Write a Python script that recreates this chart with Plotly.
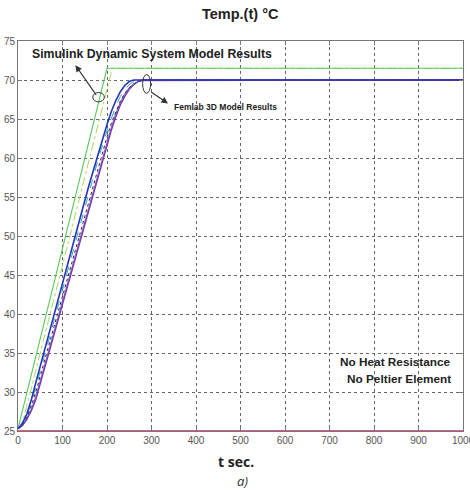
import plotly.graph_objects as go

# Simulink dynamic system model (time in s, temperature in deg C)
t_sim_a = [0, 200, 1000]
temp_sim_a = [25.3, 71.5, 71.5]
t_sim_b = [0, 10, 212, 1000]
temp_sim_b = [25.3, 26.0, 71.5, 71.5]

# Femlab 3D model results
t_fem = [0, 10, 20, 30, 40, 60, 80, 100, 120, 140, 160, 180, 200, 210,
         220, 230, 240, 250, 260, 270, 280, 300, 1000]
temp_fem_blue = [25.3, 26.0, 27.2, 29.0, 31.2, 35.5, 39.8, 44.0, 48.2, 52.4, 56.6, 60.6,
                 64.3, 66.0, 67.4, 68.5, 69.3, 69.8, 70.0, 70.0, 70.0, 70.0, 70.0]
temp_fem_cyan = [25.3, 25.9, 27.0, 28.6, 30.6, 34.8, 39.0, 43.2, 47.4, 51.6, 55.7, 59.8,
                 63.5, 65.2, 66.7, 67.9, 68.8, 69.4, 69.8, 70.0, 70.0, 70.0, 70.0]
temp_fem_navy = [25.3, 25.8, 26.8, 28.2, 30.0, 34.1, 38.2, 42.3, 46.5, 50.6, 54.8, 58.9,
                 62.7, 64.5, 66.0, 67.3, 68.3, 69.0, 69.5, 69.8, 70.0, 70.0, 70.0]
temp_fem_magenta = [25.3, 25.7, 26.6, 27.8, 29.4, 33.5, 37.6, 41.7, 45.8, 49.9, 54.0, 58.0,
                    62.0, 64.0, 65.7, 67.1, 68.2, 69.0, 69.5, 69.8, 69.9, 69.9, 70.0]
temp_fem_purple = [25.3, 25.7, 26.5, 27.6, 29.0, 33.1, 37.2, 41.3, 45.4, 49.5, 53.6, 57.6,
                   61.6, 63.6, 65.3, 66.8, 67.9, 68.8, 69.4, 69.8, 70.0, 70.0, 70.0]

# Ambient baseline
t_amb = [0, 1000]
temp_amb = [25.0, 25.0]

x_ticks = [0, 100, 200, 300, 400, 500, 600, 700, 800, 900, 1000]
y_ticks = [25, 30, 35, 40, 45, 50, 55, 60, 65, 70, 75]

fig = go.Figure()

def add_line(x, y, color, width=1.0, dash="solid"):
    fig.add_trace(go.Scatter(x=x, y=y, mode="lines",
                             line=dict(color=color, width=width, dash=dash),
                             showlegend=False, hoverinfo="skip"))

add_line(t_amb, temp_amb, "#e0587c", 2.2)
add_line(t_sim_b, temp_sim_b, "#a8d860", 1.0, "dashdot")
add_line(t_sim_a, temp_sim_a, "#5cc85c", 1.1)
add_line(t_fem, temp_fem_cyan, "#2aa8c0", 1.0, "dash")
add_line(t_fem, temp_fem_magenta, "#b848c0", 1.1)
add_line(t_fem, temp_fem_navy, "#202060", 1.0, "dot")
add_line(t_fem, temp_fem_purple, "#6040a8", 1.3)
add_line(t_fem, temp_fem_blue, "#2436b8", 1.6)

grid = dict(showgrid=True, gridcolor="#666666", griddash="dot", gridwidth=1,
            showline=True, linecolor="#777777", linewidth=1, mirror="ticks",
            ticks="inside", ticklen=4, tickcolor="#777777", zeroline=False,
            ticklabeloverflow="allow", automargin=False,
            tickfont=dict(family="Liberation Sans Narrow, Arial Narrow, sans-serif",
                          size=10, color="#555555"))

fig.update_xaxes(range=[0, 1000], tickvals=x_ticks, **grid)
fig.update_yaxes(range=[25, 75], tickvals=y_ticks, **grid)

bold = dict(family="Liberation Sans, Arial, sans-serif", color="#222222")

annotations = [
    dict(text="<b>Temp.(t) °C</b>", xref="paper", yref="paper", x=0.5, y=1.069,
         yanchor="middle", showarrow=False, font=dict(size=14.5, **bold)),
    dict(text="<b>t sec.</b>", xref="paper", yref="paper", x=0.49, y=-0.0785,
         yanchor="middle", showarrow=False,
         font=dict(family="Open Sans, sans-serif", size=14, color="#222222")),
    dict(text="<i>a)</i>", xref="paper", yref="paper", x=0.505, y=-0.128,
         yanchor="middle", showarrow=False,
         font=dict(family="Open Sans, sans-serif", size=13, color="#333333")),
    dict(text="<b>Simulink Dynamic System Model Results</b>", x=302, y=73.3,
         showarrow=False, font=dict(size=12.3, **bold)),
    dict(text="<b>Femlab 3D Model Results</b>", x=345, y=66.6, xanchor="left",
         showarrow=False, font=dict(size=8.5, **bold)),
    dict(text="<b>No Heat Resistance</b>", x=978, y=33.8, xanchor="right",
         showarrow=False, font=dict(size=11.8, **bold)),
    dict(text="<b>No Peltier Element</b>", x=978, y=31.7, xanchor="right",
         showarrow=False, font=dict(size=11.8, **bold)),
    # pointer arrows from the marker ellipses to the labels
    dict(text="", x=129, y=71.9, ax=178, ay=67.9, axref="x", ayref="y",
         showarrow=True, arrowhead=2, arrowsize=1.2, arrowwidth=1.1, arrowcolor="#333333"),
    dict(text="", x=337, y=67.0, ax=296, ay=68.6, axref="x", ayref="y",
         showarrow=True, arrowhead=2, arrowsize=1.2, arrowwidth=1.1, arrowcolor="#333333"),
]

shapes = [
    dict(type="circle", xref="x", yref="y", x0=168, x1=194, y0=67.2, y1=68.4,
         line=dict(color="#333333", width=1)),
    dict(type="circle", xref="x", yref="y", x0=280, x1=298, y0=68.3, y1=70.7,
         line=dict(color="#333333", width=1)),
]

fig.update_layout(
    width=470, height=490,
    margin=dict(l=18, r=7, t=41, b=59),
    paper_bgcolor="white", plot_bgcolor="white",
    annotations=annotations, shapes=shapes,
)

fig.write_html("out.html")
